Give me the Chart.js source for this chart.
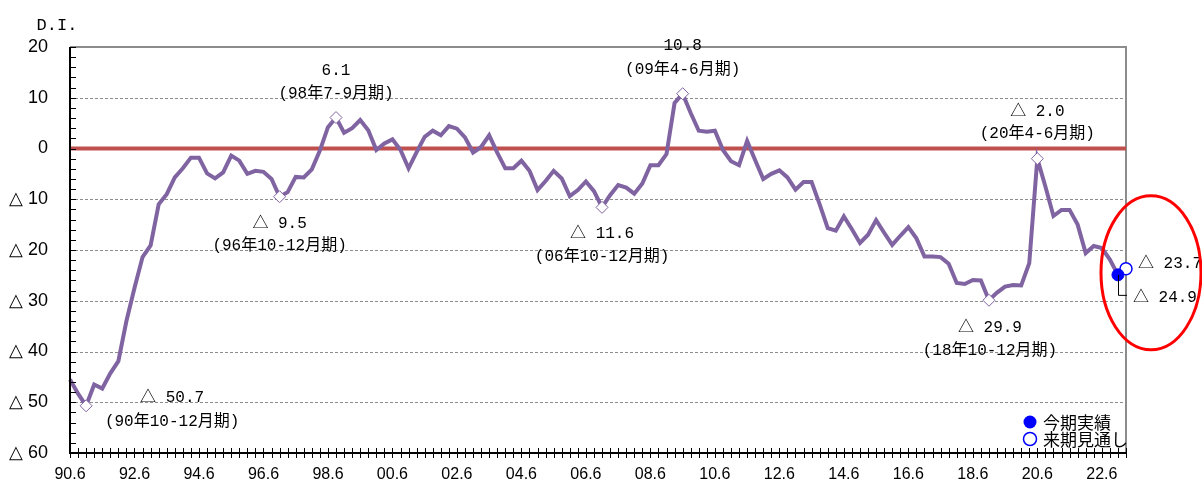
<!DOCTYPE html>
<html>
<head>
<meta charset="utf-8">
<script src="https://cdn.jsdelivr.net/npm/chart.js@4.4.0/dist/chart.umd.min.js"></script>
<style>
  html, body { margin: 0; padding: 0; background: #fff; }
  canvas { display: block; }
</style>
</head>
<body>
<canvas id="diChart" width="1202" height="479"></canvas>
<script>
/* ---------- DATA ---------- */
// quarters from 90.6 to 23.3 (last one = next-quarter outlook)
const firstYear = 1990;
const quarterMonths = [6, 9, 12, 3];
const quarterCount = 132;

const xTickLabels = ["90.6", "92.6", "94.6", "96.6", "98.6", "00.6", "02.6", "04.6",
    "06.6", "08.6", "10.6", "12.6", "14.6", "16.6", "18.6", "20.6", "22.6"];

const yTicks = [20, 10, 0, -10, -20, -30, -40, -50, -60];

// D.I. per quarter (90.6 .. 22.12)
const diValues = [
    -45.5, -48.3, -50.7, -46.5, -47.3, -44.3, -41.9, -34.0, -27.5, -21.4,
    -19.1, -11.0, -9.0, -5.7, -3.9, -1.8, -1.8, -4.9, -5.9, -4.7,
    -1.4, -2.4, -5.0, -4.4, -4.6, -6.0, -9.5, -8.6, -5.6, -5.7,
    -4.1, -0.4, 4.2, 6.1, 3.1, 4.0, 5.6, 3.6, -0.3, 1.0,
    1.8, -0.3, -3.9, -0.7, 2.3, 3.5, 2.6, 4.4, 3.9, 2.2,
    -0.8, 0.3, 2.6, -0.8, -3.9, -3.9, -2.4, -4.4, -8.2, -6.4,
    -4.4, -5.9, -9.4, -8.2, -6.5, -8.4, -11.6, -9.2, -7.2, -7.7,
    -8.9, -6.9, -3.3, -3.3, -1.1, 9.0, 10.8, 7.0, 3.5, 3.3,
    3.5, -0.3, -2.5, -3.3, 1.5, -2.3, -6.0, -5.0, -4.3, -5.7,
    -8.1, -6.6, -6.6, -11.0, -15.7, -16.2, -13.4, -15.9, -18.6, -17.0,
    -14.1, -16.6, -19.0, -17.2, -15.5, -17.7, -21.3, -21.3, -21.4, -22.7,
    -26.5, -26.7, -25.9, -26.0, -29.9, -28.4, -27.2, -26.9, -27.0, -22.6,
    -2.0, -7.5, -13.3, -12.1, -12.1, -15.0, -20.6, -19.2, -19.6, -21.9,
    -24.9
];
const actualValue = -24.9;   // 今期実績
const forecastValue = -23.7; // 来期見通し

// turning points marked with a diamond
const markIdx = [2, 26, 33, 66, 76, 114, 120];
const markText = [
    ["△ 50.7", "(90年10-12月期)"],
    ["△ 9.5", "(96年10-12月期)"],
    ["6.1", "(98年7-9月期)"],
    ["△ 11.6", "(06年10-12月期)"],
    ["10.8", "(09年4-6月期)"],
    ["△ 29.9", "(18年10-12月期)"],
    ["△ 2.0", "(20年4-6月期)"]
];

/* ---------- LAYOUT ---------- */
// label offsets (px) from each marked point: [dx, dy line1, dy line2]
const markOffset = [[86, -8, 16], [0, 27, 49], [0, -47, -24], [0, 26, 49],
    [0, -48, -24], [1, 28, 51], [0, -47, -25]];

const PURPLE = "#8064A2";
const RED = "#C0504D";
const BLUE = "#0000FF";
const GRID = "#8c8c8c";
const MONO = '16px "Liberation Mono", "Noto Sans CJK JP", monospace';

const categories = [];
for (let i = 0; i < quarterCount; i++) {
    const m = quarterMonths[i % 4];
    const yr = firstYear + Math.floor((i + 2) / 4);
    categories.push(String(yr % 100).padStart(2, "0") + "." + m);
}

const last = diValues.length - 1;
const mainData = categories.map((_, i) => (i <= last ? diValues[i] : null));
const actualData = categories.map((_, i) => (i === last ? actualValue : null));
const forecastData = categories.map((_, i) => (i === last + 1 ? forecastValue : null));
const zeroData = categories.map(() => 0);

/* ---------- PLUGIN: frame, ticks, labels ---------- */
const decor = {
    id: "decor",
    beforeDatasetsDraw(chart) {
        const { ctx, chartArea: a, scales: { y } } = chart;
        ctx.save();
        ctx.strokeStyle = GRID;
        ctx.lineWidth = 1;
        ctx.setLineDash([3, 2]);
        yTicks.forEach((v) => {
            if (v === 0 || v === yTicks[0] || v === yTicks[yTicks.length - 1]) return;
            const py = Math.round(y.getPixelForValue(v)) + 0.5;
            ctx.beginPath();
            ctx.moveTo(a.left, py);
            ctx.lineTo(a.right, py);
            ctx.stroke();
        });
        ctx.setLineDash([]);
        ctx.lineWidth = 2;
        ctx.beginPath();
        ctx.moveTo(a.left, a.top);
        ctx.lineTo(a.right, a.top);
        ctx.lineTo(a.right, a.bottom);
        ctx.stroke();
        ctx.restore();
    },
    afterDatasetsDraw(chart) {
        const { ctx, chartArea: a, scales: { x, y } } = chart;
        ctx.save();

        // axes
        ctx.strokeStyle = "#000";
        ctx.lineWidth = 2;
        ctx.beginPath();
        ctx.moveTo(a.left, a.top);
        ctx.lineTo(a.left, a.bottom);
        ctx.lineTo(a.right, a.bottom);
        ctx.stroke();

        ctx.lineWidth = 1;
        ctx.beginPath();
        for (let v = yTicks[yTicks.length - 1]; v <= yTicks[0]; v += 2) {
            const py = Math.round(y.getPixelForValue(v)) + 0.5;
            ctx.moveTo(a.left, py);
            ctx.lineTo(a.left + 6, py);
        }
        categories.forEach((_, i) => {
            const px = Math.round(x.getPixelForValue(i)) + 0.5;
            ctx.moveTo(px, a.bottom - 5);
            ctx.lineTo(px, a.bottom + 5);
        });
        ctx.stroke();

        // turning point labels
        ctx.fillStyle = "#000";
        ctx.font = MONO;
        ctx.textAlign = "center";
        ctx.textBaseline = "middle";
        markIdx.forEach((idx, k) => {
            const px = x.getPixelForValue(idx) + markOffset[k][0];
            const py = y.getPixelForValue(diValues[idx]);
            ctx.fillText(markText[k][0], px, py + markOffset[k][1]);
            ctx.fillText(markText[k][1], px, py + markOffset[k][2]);
        });

        // latest values
        const ax = x.getPixelForValue(last), ay = y.getPixelForValue(actualValue);
        const fx = x.getPixelForValue(last + 1), fy = y.getPixelForValue(forecastValue);
        ctx.textAlign = "left";
        ctx.fillText("△ " + Math.abs(forecastValue).toFixed(1), fx + 12, fy - 5);
        ctx.fillText("△ " + Math.abs(actualValue).toFixed(1), ax + 15, ay + 23);
        ctx.lineWidth = 1;
        ctx.beginPath();
        ctx.moveTo(Math.round(ax) + 0.5, ay);
        ctx.lineTo(Math.round(ax) + 0.5, ay + 20.5);
        ctx.lineTo(fx + 1, ay + 20.5);
        ctx.stroke();

        // red ellipse
        ctx.strokeStyle = "#FF0000";
        ctx.lineWidth = 3;
        ctx.beginPath();
        ctx.ellipse(fx + 25, fy + 4, 50, 77, 0, 0, Math.PI * 2);
        ctx.stroke();

        // legend
        const lx = a.right - 96;
        ctx.font = '17px "Noto Sans CJK JP", sans-serif';
        ctx.fillStyle = BLUE;
        ctx.beginPath();
        ctx.arc(lx, a.bottom - 31, 6.5, 0, Math.PI * 2);
        ctx.fill();
        ctx.fillStyle = "#fff";
        ctx.strokeStyle = BLUE;
        ctx.lineWidth = 1.5;
        ctx.beginPath();
        ctx.arc(lx, a.bottom - 14, 6.5, 0, Math.PI * 2);
        ctx.fill();
        ctx.stroke();
        ctx.fillStyle = "#000";
        ctx.fillText("今期実績", lx + 13, a.bottom - 30);
        ctx.fillText("来期見通し", lx + 13, a.bottom - 13);

        // axis title
        ctx.font = '17px "Liberation Mono", monospace';
        ctx.textAlign = "center";
        ctx.fillText("D.I.", a.left - 13, a.top - 22);
        ctx.restore();
    }
};

/* ---------- CHART ---------- */
const ctx = document.getElementById("diChart").getContext("2d");
new Chart(ctx, {
    type: "line",
    data: {
        labels: categories,
        datasets: [
            {
                label: "今期実績",
                data: actualData,
                showLine: false,
                pointRadius: 6,
                pointStyle: "circle",
                pointBackgroundColor: BLUE,
                pointBorderColor: BLUE,
                pointBorderWidth: 1,
            },
            {
                label: "来期見通し",
                data: forecastData,
                showLine: false,
                pointRadius: 6,
                pointStyle: "circle",
                pointBackgroundColor: "#fff",
                pointBorderColor: BLUE,
                pointBorderWidth: 1.5,
            },
            {
                label: "D.I.",
                data: mainData,
                borderColor: PURPLE,
                borderWidth: 4,
                tension: 0,
                spanGaps: false,
                pointStyle: "rectRot",
                pointRadius: (c) => (markIdx.includes(c.dataIndex) ? 6 : 0),
                pointBackgroundColor: "#fff",
                pointBorderColor: PURPLE,
                pointBorderWidth: 1,
            },
            {
                label: "zero",
                data: zeroData,
                borderColor: RED,
                borderWidth: 4,
                pointRadius: 0,
            },
        ],
    },
    options: {
        responsive: false,
        animation: false,
        layout: { padding: { top: 47, right: 76, left: 0, bottom: 0 } },
        plugins: {
            legend: { display: false },
            tooltip: { enabled: false },
        },
        scales: {
            x: {
                type: "category",
                offset: false,
                grid: { display: false },
                border: { display: false },
                afterFit: (s) => { s.height = 26; },
                ticks: {
                    autoSkip: false,
                    maxRotation: 0,
                    padding: 4,
                    color: "#000",
                    font: { family: "Liberation Sans", size: 16 },
                    callback: function (v) {
                        const lab = this.getLabelForValue(v);
                        return xTickLabels.includes(lab) ? lab : "";
                    },
                },
            },
            y: {
                min: yTicks[yTicks.length - 1],
                max: yTicks[0],
                grid: { display: false },
                border: { display: false },
                afterFit: (s) => { s.width = 70; },
                ticks: {
                    stepSize: 10,
                    padding: 14,
                    color: "#000",
                    font: { family: "Liberation Sans", size: 18 },
                    callback: (v) => (v < 0 ? "△ " + -v : String(v)),
                },
            },
        },
    },
    plugins: [decor],
});
</script>
</body>
</html>
